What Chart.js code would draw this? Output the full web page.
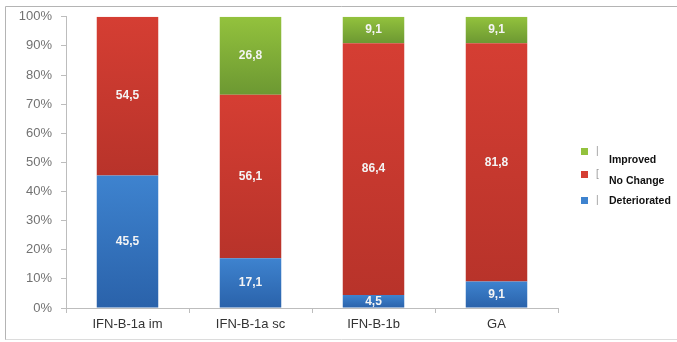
<!DOCTYPE html>
<html>
<head>
<meta charset="utf-8">
<script src="https://cdn.jsdelivr.net/npm/chart.js@4/dist/chart.umd.min.js"></script>
<style>
  html, body { margin: 0; padding: 0; background: #fff; }
  canvas { display: block; }
</style>
</head>
<body>
<canvas id="c" width="677" height="342"></canvas>
<script>
// Treatment groups and outcome shares (%)
const categories = ['IFN-B-1a im', 'IFN-B-1a sc', 'IFN-B-1b', 'GA'];
const deteriorated = [45.5, 17.1, 4.5, 9.1];
const noChange = [54.5, 56.1, 86.4, 81.8];
const improved = [0, 26.8, 9.1, 9.1];
const yTicks = [0, 10, 20, 30, 40, 50, 60, 70, 80, 90, 100];

const seriesNames = ['Deteriorated', 'No Change', 'Improved'];
const seriesValues = [deteriorated, noChange, improved];
const palette = [
  { light: '#3e83cf', dark: '#2a62aa' },
  { light: '#d53e33', dark: '#b8332a' },
  { light: '#93c23d', dark: '#6c9832' }
];

// Vertical gradient spanning a single stacked segment
function segmentFill(ctx) {
  const p = palette[ctx.datasetIndex];
  if (ctx.type !== 'data') return p.light;
  const chart = ctx.chart;
  const y = chart.scales && chart.scales.y;
  if (!y) return p.light;
  const i = ctx.dataIndex;
  let base = 0;
  for (let d = 0; d < ctx.datasetIndex; d++) base += seriesValues[d][i];
  const top = base + seriesValues[ctx.datasetIndex][i];
  const yTop = y.getPixelForValue(top);
  const yBot = y.getPixelForValue(base);
  if (!isFinite(yTop) || !isFinite(yBot) || yTop === yBot) return p.light;
  const g = chart.ctx.createLinearGradient(0, yTop, 0, yBot);
  g.addColorStop(0, p.light);
  g.addColorStop(1, p.dark);
  return g;
}

// Value labels centred inside each segment
const segmentLabels = {
  id: 'segmentLabels',
  afterDatasetsDraw(chart) {
    const c = chart.ctx;
    c.save();
    c.fillStyle = '#f4f4f4';
    c.font = 'bold 12px "Liberation Sans", Arial, sans-serif';
    c.textAlign = 'center';
    c.textBaseline = 'middle';
    chart.data.datasets.forEach((ds, di) => {
      const meta = chart.getDatasetMeta(di);
      meta.data.forEach((el, i) => {
        const v = ds.data[i];
        if (!v) return;
        c.fillText(v.toFixed(1).replace('.', ','), el.x, (el.y + el.base) / 2);
      });
    });
    c.restore();
  }
};

// Frame lines and side legend
const frameAndLegend = {
  id: 'frameAndLegend',
  afterDraw(chart) {
    const c = chart.ctx;
    c.save();
    c.strokeStyle = '#b4b4b4';
    c.lineWidth = 1;
    c.beginPath();
    c.moveTo(5.5, 340); c.lineTo(5.5, 6.5); c.lineTo(677, 6.5);
    c.stroke();
    c.strokeStyle = '#dcdcdc';
    c.beginPath();
    c.moveTo(5.5, 339.5); c.lineTo(677, 339.5);
    c.stroke();

    const entries = [
      { name: 'Improved', color: palette[2].light, my: 148, ty: 160, stub: '|' },
      { name: 'No Change', color: palette[1].light, my: 171, ty: 181, stub: '[' },
      { name: 'Deteriorated', color: palette[0].light, my: 197, ty: 201, stub: '|' }
    ];
    entries.forEach(e => {
      c.fillStyle = e.color;
      c.fillRect(581, e.my, 7, 7);
      c.fillStyle = '#9a9a9a';
      c.font = '10px "Liberation Sans", Arial, sans-serif';
      c.textAlign = 'left';
      c.textBaseline = 'middle';
      c.fillText(e.stub, 596, e.my + 3.5);
      c.fillStyle = '#111111';
      c.font = 'bold 10.5px "Liberation Sans", Arial, sans-serif';
      c.fillText(e.name, 609, e.ty);
    });
    c.restore();
  }
};

new Chart(document.getElementById('c'), {
  type: 'bar',
  data: {
    labels: categories,
    datasets: seriesNames.map((name, di) => ({
      label: name,
      data: seriesValues[di],
      backgroundColor: segmentFill,
      borderWidth: 0,
      categoryPercentage: 1,
      barPercentage: 0.5
    }))
  },
  options: {
    responsive: false,
    animation: false,
    layout: { padding: { top: 15, right: 119, bottom: 0, left: 0 } },
    plugins: {
      legend: { display: false },
      tooltip: { enabled: false }
    },
    scales: {
      x: {
        stacked: true,
        afterFit(scale) { scale.height = 34; },
        grid: {
          display: true,
          drawOnChartArea: false,
          offset: true,
          tickLength: 5,
          color: '#bdbdbd'
        },
        border: { color: '#bdbdbd' },
        ticks: {
          color: '#333333',
          font: { family: '"Liberation Sans", Arial, sans-serif', size: 13 },
          padding: 4
        }
      },
      y: {
        stacked: true,
        min: 0,
        max: 100,
        afterFit(scale) { scale.width = 66; },
        afterBuildTicks(scale) { scale.ticks = yTicks.map(v => ({ value: v })); },
        grid: {
          display: true,
          drawOnChartArea: false,
          tickLength: 5,
          color: '#bdbdbd'
        },
        border: { color: '#bdbdbd' },
        ticks: {
          color: '#727272',
          font: { family: '"Liberation Sans", Arial, sans-serif', size: 13 },
          padding: 9,
          callback: v => v + '%'
        }
      }
    }
  },
  plugins: [segmentLabels, frameAndLegend]
});
</script>
</body>
</html>
